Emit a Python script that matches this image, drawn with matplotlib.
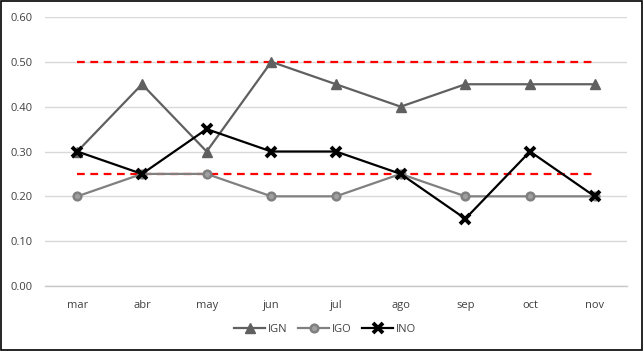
import matplotlib.pyplot as plt
import numpy as np

# data
meses = ["mar", "abr", "may", "jun", "jul", "ago", "sep", "oct", "nov"]
ign = [0.30, 0.45, 0.30, 0.50, 0.45, 0.40, 0.45, 0.45, 0.45]
igo = [0.20, 0.25, 0.25, 0.20, 0.20, 0.25, 0.20, 0.20, 0.20]
ino = [0.30, 0.25, 0.35, 0.30, 0.30, 0.25, 0.15, 0.30, 0.20]
limite_sup = 0.50
limite_inf = 0.25
yticks = [0.0, 0.1, 0.2, 0.3, 0.4, 0.5, 0.6]

plt.rcParams['font.family'] = ['Open Sans', 'DejaVu Sans']

W, H = 644, 351
fig = plt.figure(figsize=(W/100, H/100), dpi=100, facecolor="w")
ax = fig.add_axes([45/W, 1-286/H, (627-45)/W, (286-17)/H])

x = np.arange(len(meses))

ax.plot(x, [limite_sup]*len(x), color="#ff0000", ls=(0, (3.5, 2.5)), lw=1.6, zorder=2)
ax.plot(x, [limite_inf]*len(x), color="#ff0000", ls=(0, (3.5, 2.5)), lw=1.6, zorder=2)

ax.plot(x, ign, color="#606060", lw=1.6, marker="^", ms=7, mfc="#606060", mec="#606060", label="IGN", zorder=3)
ax.plot(x, igo, color="#808080", lw=1.6, marker="o", ms=5.5, mfc="#a0a0a0", mec="#808080", mew=1.8, label="IGO", zorder=3)
ax.plot(x, ino, color="#000000", lw=1.6, marker="x", ms=7.5, mec="black", mew=2.8, label="INO", zorder=4)

ax.set_xlim(-0.5, len(x)-0.5)
ax.set_ylim(0, 0.6)
ax.set_yticks(yticks)
ax.set_yticklabels(["%.2f" % v for v in yticks])
ax.set_xticks(x)
ax.set_xticklabels(meses)
ax.tick_params(length=0, labelsize=8, colors="#404040", pad=10)
ax.tick_params(axis="y", pad=9)
ax.grid(axis="y", color="#d9d9d9", lw=1)
ax.set_axisbelow(True)
for s in ["top", "left", "right"]:
    ax.spines[s].set_visible(False)
ax.spines["bottom"].set_color("#c8c8c8")
ax.spines["bottom"].set_linewidth(1)

leg = fig.legend(loc="center", bbox_to_anchor=(325/W, 1-329/H), ncol=3, frameon=False,
                 fontsize=8, handlelength=2.8, columnspacing=1.0, handletextpad=0.2)
for t in leg.get_texts():
    t.set_color("#404040")

# black frame around the figure
fig.patches.append(plt.Rectangle((0.002, 0.003), 0.995, 0.994, transform=fig.transFigure,
                                 fill=False, edgecolor="black", lw=1.2))

plt.savefig("out.png", dpi=100)
